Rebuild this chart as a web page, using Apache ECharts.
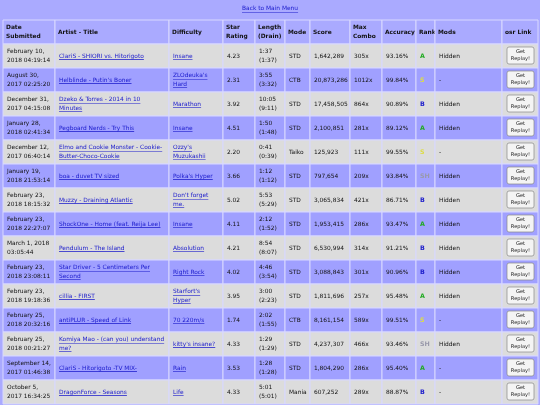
<!DOCTYPE html>
<html><head><meta charset="utf-8">
<script src="https://cdn.jsdelivr.net/npm/echarts@6/dist/echarts.min.js"></script>
<style>html,body{margin:0;padding:0;background:#aaaaff}#c{width:540px;height:405px}</style>
</head><body><div id="c"></div>
<script>
const headers=["Date\nSubmitted","Artist - Title","Difficulty","Star\nRating","Length\n(Drain)","Mode","Score","Max\nCombo","Accuracy","Rank","Mods","osr Link"];
const dates=["February 10,\n2018 04:19:14","August 30,\n2017 02:25:20","December 31,\n2017 04:15:08","January 28,\n2018 02:41:34","December 12,\n2017 06:40:14","January 19,\n2018 21:53:14","February 23,\n2018 18:15:32","February 23,\n2018 22:27:07","March 1, 2018\n03:05:44","February 23,\n2018 23:08:11","February 23,\n2018 19:18:36","February 25,\n2018 20:32:16","February 25,\n2018 00:21:27","September 14,\n2017 01:46:38","October 5,\n2017 16:34:25"];
const titles=["ClariS - SHIORI vs. Hitorigoto","Helblinde - Putin's Boner","Dzeko & Torres - 2014 in 10\nMinutes","Pegboard Nerds - Try This","Elmo and Cookie Monster - Cookie-\nButter-Choco-Cookie","boa - duvet TV sized","Muzzy - Draining Atlantic","ShockOne - Home (feat. Reija Lee)","Pendulum - The Island","Star Driver - 5 Centimeters Per\nSecond","cillia - FIRST","antiPLUR - Speed of Link","Komiya Mao - (can you) understand\nme?","ClariS - Hitorigoto -TV MIX-","DragonForce - Seasons"];
const diffs=["Insane","ZLOdeuka's\nHard","Marathon","Insane","Ozzy's\nMuzukashii","Polka's Hyper","Don't forget\nme.","Insane","Absolution","Right Rock","Starfort's\nHyper","70 220m/s","kitty's insane?","Rain","Life"];
const stars=[4.23,2.31,3.92,4.51,2.20,3.66,5.02,4.11,4.21,4.02,3.95,1.74,4.33,3.53,4.33];
const lengths=["1:37\n(1:37)","3:55\n(3:32)","10:05\n(9:11)","1:50\n(1:48)","0:41\n(0:39)","1:12\n(1:12)","5:53\n(5:29)","2:12\n(1:52)","8:54\n(8:07)","4:46\n(3:54)","3:00\n(2:23)","2:02\n(1:55)","1:29\n(1:29)","1:28\n(1:28)","5:01\n(5:01)"];
const modes=["STD","CTB","STD","STD","Taiko","STD","STD","STD","STD","STD","STD","CTB","STD","STD","Mania"];
const scores=[1642289,20873286,17458505,2100851,125923,797654,3065834,1953415,6530994,3088843,1811696,8161154,4237307,1804290,607252];
const combos=[305,1012,864,281,111,209,421,286,314,301,257,589,466,286,289];
const accs=[93.16,99.84,90.89,89.12,99.55,93.84,86.71,93.47,91.21,90.96,95.48,99.51,93.46,95.40,88.87];
const ranks=["A","S","B","A","S","SH","B","A","B","B","A","S","SH","A","B"];
const mods=["Hidden","-","Hidden","Hidden","-","Hidden","Hidden","Hidden","Hidden","Hidden","Hidden","-","Hidden","-","-"];

const colX=[3,55,169,223,255,285,310,350,382,416,435,502,538];
const headTop=20, rowH=24;
const rankColor={A:"#22aa22",S:"#dddd44",B:"#2222cc",SH:"#9999aa"};
const F="DejaVu Sans";
const FS=5.9, LH=8.2;
const mctx=document.createElement('canvas').getContext('2d');
mctx.font=FS+'px "'+F+'"';
const cells=[];
for(let c=0;c<12;c++) cells.push([c,-1]);
for(let r=0;r<dates.length;r++) for(let c=0;c<12;c++) cells.push([c,r]);
function cellText(c,r){
  if(r<0) return headers[c];
  return [dates[r],titles[r],diffs[r],stars[r].toFixed(2),lengths[r],modes[r],scores[r].toLocaleString('en-US'),combos[r]+"x",accs[r].toFixed(2)+"%",ranks[r],mods[r],""][c];
}
const chart=echarts.init(document.getElementById('c'),null,{renderer:'canvas'});
chart.setOption({
  animation:false,
  grid:{left:0,right:0,top:0,bottom:0},
  xAxis:{type:'value',min:0,max:540,show:false},
  yAxis:{type:'value',min:0,max:405,inverse:true,show:false},
  graphic:[{type:'text',left:242,top:5,style:{text:'Back to Main Menu',fill:'#1a1acc',font:FS+'px "'+F+'"'}},
           {type:'rect',left:242,top:12,shape:{width:mctx.measureText('Back to Main Menu').width,height:0.6},style:{fill:'#1a1acc'}}],
  series:[{type:'custom',coordinateSystem:'cartesian2d',data:cells,
    renderItem:function(params,api){
      const c=api.value(0), r=api.value(1);
      const y0=r<0?headTop:headTop+rowH+r*rowH, h=rowH;
      const p0=api.coord([colX[c],y0]), p1=api.coord([colX[c+1],y0+h]);
      const w=p1[0]-p0[0], hh=p1[1]-p0[1];
      const bg=r<0?'#aaaaff':(r%2===0?'#dcdcdc':'#a0a0ff');
      const ch=[{type:'rect',shape:{x:p0[0],y:p0[1],width:w,height:hh},style:{fill:bg,stroke:'#d8d8ff',lineWidth:1}}];
      const t=cellText(c,r);
      const isLink=r>=0&&(c===1||c===2);
      let fill='#111', font=(r<0?'bold ':'')+FS+'px "'+F+'"';
      if(isLink) fill='#1a1acc';
      if(r>=0&&c===9){fill=rankColor[t];font='bold 6.3px "'+F+'"';}
      if(r>=0&&c===11){
        ch.push({type:'rect',shape:{x:p0[0]+5,y:p0[1]+3,width:27,height:17,r:2},style:{fill:'#f4f4f4',stroke:'#888',lineWidth:0.7}});
        ch.push({type:'text',style:{x:p0[0]+18.5,y:p0[1]+11.5,text:'Get\nReplay!',fill:'#222',font:'5.1px "'+F+'"',align:'center',verticalAlign:'middle',lineHeight:7}});
      } else {
        ch.push({type:'text',style:{x:p0[0]+(r<0?3:4),y:p0[1]+hh/2,text:t,fill:fill,font:font,verticalAlign:'middle',lineHeight:LH}});
        if(isLink){
          const lines=t.split('\n');
          const n=lines.length;
          lines.forEach((ln,i)=>{
            const ly=p0[1]+hh/2-(n*LH)/2+LH*(i+1)-1;
            ch.push({type:'rect',shape:{x:p0[0]+4,y:ly,width:mctx.measureText(ln).width,height:0.6},style:{fill:'#1a1acc'}});
          });
        }
      }
      return {type:'group',children:ch};
    }}]
});
</script></body></html>
